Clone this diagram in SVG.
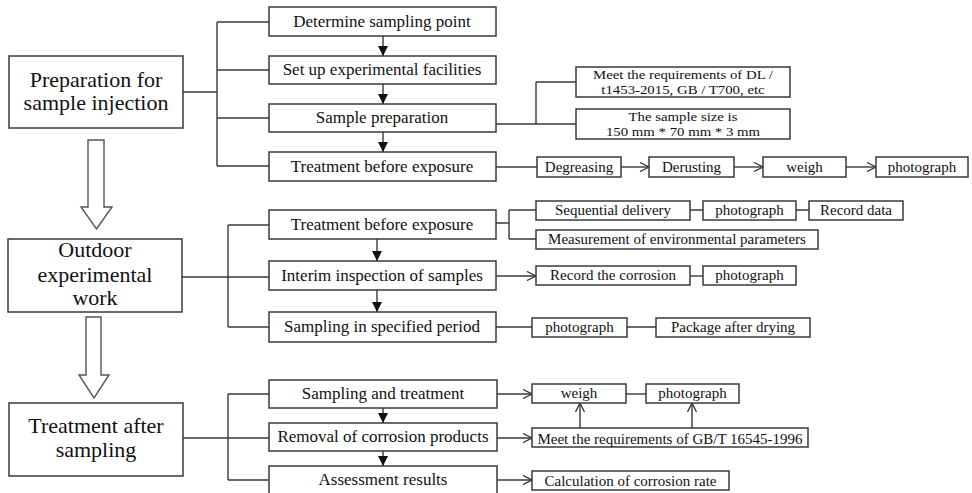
<svg xmlns="http://www.w3.org/2000/svg" width="972" height="493" viewBox="0 0 972 493">
<style>
.b{fill:#fff;stroke:#3a3a3a;stroke-width:1.5}
.l{fill:none;stroke:#3a3a3a;stroke-width:1.4}
.h{fill:#fff;stroke:#555;stroke-width:1.4}
text{font-family:"Liberation Serif","Times New Roman",serif;fill:#111;text-anchor:middle}
.t20{font-size:22px}
.t16{font-size:17px}
.t14{font-size:15px}
.t13{font-size:13px}
</style>
<defs>
<marker id="fa" viewBox="0 0 10 10" refX="10" refY="5" markerWidth="10" markerHeight="10" markerUnits="userSpaceOnUse" orient="auto"><path d="M0,0 L10,5 L0,10 z" fill="#111"/></marker>
<marker id="oa" viewBox="0 0 10 10" refX="10" refY="5" markerWidth="10" markerHeight="10" markerUnits="userSpaceOnUse" orient="auto"><path d="M1,0.5 L10,5 L1,9.5" fill="none" stroke="#333" stroke-width="1.3"/></marker>
</defs>
<rect width="972" height="493" fill="#fff"/>

<g id="connectors">
<polygon class="h" points="88,140 104,140 104,207 112,207 96.5,229 81,207 88,207"/>
<polygon class="h" points="86,317 101,317 101,375 109,375 94,398 79,375 86,375"/>
<path class="l" d="M183,92 H217 M217,22 V166 M217,22 H269 M217,70 H269 M217,118 H269 M217,166 H269"/>
<path class="l" d="M383,36 V56" marker-end="url(#fa)"/>
<path class="l" d="M383,84 V104" marker-end="url(#fa)"/>
<path class="l" d="M383,132 V152" marker-end="url(#fa)"/>
<path class="l" d="M496,124 H536 M536,82 V124 M536,82 H576 M536,124 H576"/>
<path class="l" d="M496,167 H537"/>
<path class="l" d="M621,167 H649" marker-end="url(#oa)"/>
<path class="l" d="M734,167 H763" marker-end="url(#oa)"/>
<path class="l" d="M846,167 H876" marker-end="url(#oa)"/>
<path class="l" d="M182,277 H269 M228,225 V327 M228,225 H269 M228,327 H269"/>
<path class="l" d="M377,239 V261" marker-end="url(#fa)"/>
<path class="l" d="M377,290 V312" marker-end="url(#fa)"/>
<path class="l" d="M496,223 H509 M509,210 V239 M509,210 H536 M509,239 H536"/>
<path class="l" d="M690,210 H703 M796,210 H809"/>
<path class="l" d="M496,276 H536" marker-end="url(#oa)"/>
<path class="l" d="M690,276 H703"/>
<path class="l" d="M496,327 H532 M627,327 H656"/>
<path class="l" d="M183,438 H269 M228,394 V480 M228,394 H269 M228,480 H269"/>
<path class="l" d="M383,408 V423" marker-end="url(#fa)"/>
<path class="l" d="M383,451 V466" marker-end="url(#fa)"/>
<path class="l" d="M497,394 H532" marker-end="url(#oa)"/>
<path class="l" d="M626,394 H646"/>
<path class="l" d="M497,438 H532" marker-end="url(#oa)"/>
<path class="l" d="M580,428 V403" marker-end="url(#oa)"/>
<path class="l" d="M692,428 V403" marker-end="url(#oa)"/>
<path class="l" d="M497,480 H532" marker-end="url(#oa)"/>
</g>

<g id="n-prep"><rect class="b" x="9" y="56" width="174" height="72"/><text class="t20" x="96" y="87">Preparation for</text><text class="t20" x="96" y="110">sample injection</text></g>
<g id="n-outdoor"><rect class="b" x="8" y="239" width="174" height="73"/><text class="t20" x="95" y="257">Outdoor</text><text class="t20" x="95" y="282">experimental</text><text class="t20" x="95" y="305">work</text></g>
<g id="n-after"><rect class="b" x="9" y="403" width="174" height="73"/><text class="t20" x="96" y="433">Treatment after</text><text class="t20" x="96" y="457">sampling</text></g>

<g id="n-determine"><rect class="b" x="269" y="7" width="227" height="29"/><text class="t16" x="382" y="27">Determine sampling point</text></g>
<g id="n-setup"><rect class="b" x="269" y="56" width="227" height="28"/><text class="t16" x="382" y="75">Set up experimental facilities</text></g>
<g id="n-sampleprep"><rect class="b" x="269" y="104" width="227" height="28"/><text class="t16" x="382" y="123">Sample preparation</text></g>
<g id="n-treat1"><rect class="b" x="269" y="152" width="227" height="29"/><text class="t16" x="382" y="172">Treatment before exposure</text></g>
<g id="n-meetdl"><rect class="b" x="576" y="67" width="214" height="30"/><text class="t13" transform="translate(683,0) scale(1.14,1)" x="0" y="79">Meet the requirements of DL /</text><text class="t13" transform="translate(683,0) scale(1.14,1)" x="0" y="94">t1453-2015, GB / T700, etc</text></g>
<g id="n-size"><rect class="b" x="576" y="109" width="214" height="30"/><text class="t13" transform="translate(683,0) scale(1.14,1)" x="0" y="121">The sample size is</text><text class="t13" transform="translate(683,0) scale(1.14,1)" x="0" y="136">150 mm * 70 mm * 3 mm</text></g>
<g id="n-degrease"><rect class="b" x="537" y="157" width="84" height="20"/><text class="t14" x="579" y="172">Degreasing</text></g>
<g id="n-derust"><rect class="b" x="649" y="157" width="85" height="20"/><text class="t14" x="691.5" y="172">Derusting</text></g>
<g id="n-weigh1"><rect class="b" x="763" y="157" width="83" height="20"/><text class="t14" x="804.5" y="172">weigh</text></g>
<g id="n-photo1"><rect class="b" x="876" y="157" width="92" height="20"/><text class="t14" x="922" y="172">photograph</text></g>

<g id="n-treat2"><rect class="b" x="269" y="210" width="227" height="29"/><text class="t16" x="382" y="230">Treatment before exposure</text></g>
<g id="n-interim"><rect class="b" x="269" y="261" width="227" height="29"/><text class="t16" x="382" y="281">Interim inspection of samples</text></g>
<g id="n-period"><rect class="b" x="269" y="312" width="227" height="30"/><text class="t16" x="382" y="332">Sampling in specified period</text></g>
<g id="n-seq"><rect class="b" x="536" y="201" width="154" height="19"/><text class="t14" x="613" y="215">Sequential delivery</text></g>
<g id="n-photo2"><rect class="b" x="703" y="201" width="93" height="19"/><text class="t14" x="749.5" y="215">photograph</text></g>
<g id="n-record"><rect class="b" x="809" y="201" width="94" height="19"/><text class="t14" x="856" y="215">Record data</text></g>
<g id="n-measure"><rect class="b" x="536" y="230" width="282" height="19"/><text class="t14" x="677" y="244">Measurement of environmental parameters</text></g>
<g id="n-corrosion"><rect class="b" x="536" y="266" width="154" height="19"/><text class="t14" x="613" y="280">Record the corrosion</text></g>
<g id="n-photo3"><rect class="b" x="703" y="266" width="93" height="19"/><text class="t14" x="749.5" y="280">photograph</text></g>
<g id="n-photo4"><rect class="b" x="532" y="318" width="95" height="19"/><text class="t14" x="579.5" y="332">photograph</text></g>
<g id="n-package"><rect class="b" x="656" y="318" width="154" height="19"/><text class="t14" x="733" y="332">Package after drying</text></g>

<g id="n-samptreat"><rect class="b" x="269" y="380" width="228" height="28"/><text class="t16" x="383" y="399">Sampling and treatment</text></g>
<g id="n-removal"><rect class="b" x="269" y="423" width="228" height="28"/><text class="t16" x="383" y="442">Removal of corrosion products</text></g>
<g id="n-assess"><rect class="b" x="269" y="466" width="228" height="30"/><text class="t16" x="383" y="485">Assessment results</text></g>
<g id="n-weigh2"><rect class="b" x="532" y="384" width="94" height="19"/><text class="t14" x="579" y="398">weigh</text></g>
<g id="n-photo5"><rect class="b" x="646" y="384" width="93" height="19"/><text class="t14" x="692.5" y="398">photograph</text></g>
<g id="n-meetgb"><rect class="b" x="532" y="428" width="276" height="19"/><text class="t14" x="670" y="444">Meet the requirements of GB/T 16545-1996</text></g>
<g id="n-calc"><rect class="b" x="532" y="471" width="197" height="19"/><text class="t14" x="630.5" y="486">Calculation of corrosion rate</text></g>
</svg>
